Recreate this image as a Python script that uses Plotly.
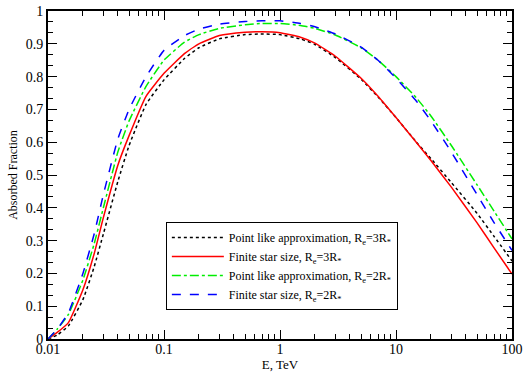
import plotly.graph_objects as go

energy = [0.01, 0.012, 0.015, 0.02, 0.025, 0.03, 0.04, 0.05, 0.07, 0.1, 0.15, 0.2, 0.3, 0.5,
          0.7, 1, 1.5, 2, 3, 5, 7, 10, 15, 20, 30, 50, 70, 100]

point_3r = [0.0, 0.012, 0.04, 0.12, 0.22, 0.32, 0.48, 0.59, 0.715, 0.79, 0.855, 0.888, 0.915, 0.928,
            0.93, 0.928, 0.915, 0.898, 0.858, 0.792, 0.738, 0.675, 0.6, 0.55, 0.477, 0.383, 0.313, 0.238]
finite_3r = [0.0, 0.02, 0.05, 0.15, 0.26, 0.37, 0.53, 0.62, 0.74, 0.81, 0.87, 0.9, 0.925, 0.935,
             0.937, 0.934, 0.92, 0.902, 0.862, 0.795, 0.74, 0.675, 0.599, 0.544, 0.463, 0.354, 0.278, 0.198]
point_2r = [0.0, 0.03, 0.075, 0.18, 0.29, 0.40, 0.57, 0.665, 0.77, 0.85, 0.905, 0.928, 0.947, 0.958,
            0.962, 0.962, 0.956, 0.947, 0.927, 0.888, 0.85, 0.8, 0.735, 0.68, 0.59, 0.47, 0.39, 0.305]
finite_2r = [0.0, 0.03, 0.08, 0.2, 0.32, 0.44, 0.61, 0.7, 0.8, 0.88, 0.925, 0.945, 0.96, 0.968,
             0.97, 0.97, 0.962, 0.952, 0.93, 0.89, 0.85, 0.795, 0.725, 0.665, 0.57, 0.44, 0.355, 0.27]

names = ["Point like approximation, R<sub>e</sub>=3R<sub>*</sub>",
         "Finite star size, R<sub>e</sub>=3R<sub>*</sub>",
         "Point like approximation, R<sub>e</sub>=2R<sub>*</sub>",
         "Finite star size, R<sub>e</sub>=2R<sub>*</sub>"]

x_ticks = [0.01, 0.1, 1, 10, 100]
x_tick_labels = ["0.01", "0.1", "1", "10", "100"]
y_ticks = [0, 0.1, 0.2, 0.3, 0.4, 0.5, 0.6, 0.7, 0.8, 0.9, 1]
y_tick_labels = ["0", "0.1", "0.2", "0.3", "0.4", "0.5", "0.6", "0.7", "0.8", "0.9", "1"]

styles = [("black", "dot"), ("#ff0000", "solid"), ("#00ee00", "dashdot"), ("#0000ff", "dash")]
series = [point_3r, finite_3r, point_2r, finite_2r]

fig = go.Figure()
for name, vals, (col, dash) in zip(names, series, styles):
    fig.add_trace(go.Scatter(x=energy, y=vals, mode="lines", name=name,
                             line=dict(color=col, dash=dash, width=1.5, shape="spline", smoothing=0.4)))

font = "Liberation Serif"
axis_common = dict(showline=True, linecolor="black", linewidth=2, mirror="allticks",
                   ticks="inside", ticklen=9, tickwidth=1, tickcolor="black",
                   showgrid=False, zeroline=False, automargin=False,
                   tickfont=dict(family=font, size=14, color="black"))

fig.update_xaxes(type="log", range=[-2, 2], tickvals=x_ticks, ticktext=x_tick_labels,
                 ticklabelstandoff=-4,
                 title=dict(text="E, TeV", font=dict(family=font, size=13, color="black"), standoff=0),
                 minor=dict(ticks="inside", ticklen=5, tickcolor="black", dtick="D1"),
                 **axis_common)
fig.update_yaxes(range=[0, 1], tickvals=y_ticks, ticktext=y_tick_labels,
                 title=dict(text="Absorbed Fraction", font=dict(family=font, size=12, color="black"), standoff=6),
                 minor=dict(ticks="inside", ticklen=5, tickcolor="black", dtick=0.1 / 3, tick0=0),
                 **axis_common)

fig.update_layout(width=529, height=374, margin=dict(l=48, r=17, t=11, b=35),
                  paper_bgcolor="white", plot_bgcolor="white",
                  font=dict(family=font),
                  legend=dict(x=0.254, y=0.357, xanchor="left", yanchor="top",
                              bordercolor="black", borderwidth=1, bgcolor="white",
                              font=dict(family=font, size=12, color="black"),
                              tracegroupgap=0, itemwidth=52))

fig.write_html("out.html")
